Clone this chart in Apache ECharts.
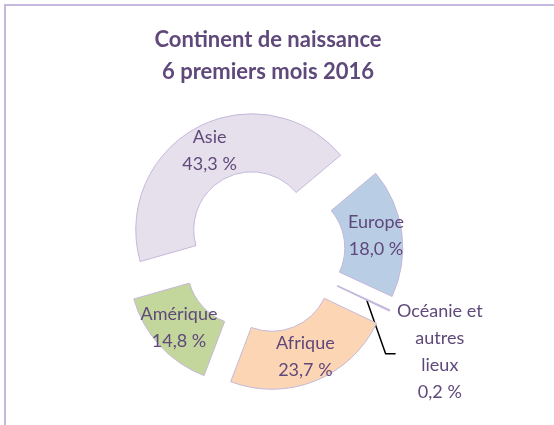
<!DOCTYPE html>
<html>
<head>
<meta charset="utf-8">
<script src="https://cdn.jsdelivr.net/npm/echarts@6/dist/echarts.min.js"></script>
<style>
  html, body { margin: 0; padding: 0; background: #fff; }
  #chart { width: 554px; height: 425px; }
</style>
</head>
<body>
<div id="chart"></div>
<script>
const continents = ['Europe', 'Océanie et\nautres\nlieux', 'Afrique', 'Amérique', 'Asie']
const shares = [18.0, 0.2, 23.7, 14.8, 43.3]
const sliceColors = ['#b9cde5', '#c9bedb', '#fcd5b5', '#c3d69b', '#e5e0ec']

const CX = 263
const CY = 251
const textColor = '#5f497a'

const chart = echarts.init(document.getElementById('chart'))

const fmt = v => v.toFixed(1).replace('.', ',') + ' %'

const pieData = continents.map((name, i) => {
  const item = {
    name,
    value: shares[i],
    selected: true,
    itemStyle: { color: sliceColors[i] },
  }
  if (i === 1) {
    // tiny slice: label outside with a black leader
    item.label = { position: 'outside' }
    item.labelLine = { show: true, length: 20, length2: 10, lineStyle: { color: '#000', width: 1.5 } }
  }
  return item
})

chart.setOption({
  animation: false,
  title: {
    text: 'Continent de naissance\n6 premiers mois 2016',
    left: 268,
    top: 24,
    padding: 0,
    textAlign: 'center',
    textStyle: {
      fontFamily: 'Lato',
      fontWeight: 'bold',
      fontSize: 22,
      lineHeight: 32,
      color: textColor,
    },
  },
  graphic: [
    {
      type: 'rect',
      shape: { x: 5, y: 5, width: 800, height: 800 },
      style: { fill: 'none', stroke: '#c5b8dc', lineWidth: 2 },
      silent: true,
    },
  ],
  series: [
    {
      type: 'pie',
      center: [CX, CY],
      radius: [58, 116],
      startAngle: 40,
      clockwise: true,
      selectedMode: 'multiple',
      selectedOffset: 24,
      avoidLabelOverlap: false,
      emphasis: { disabled: true },
      itemStyle: { borderColor: '#c4b8da', borderWidth: 1 },
      label: {
        show: true,
        position: 'inside',
        formatter: p => p.name + '\n' + fmt(p.value),
        fontFamily: 'Lato',
        fontSize: 18,
        lineHeight: 27,
        color: textColor,
      },
      labelLine: { show: false },
      labelLayout: params => {
        if (params.dataIndex !== 1 || !params.labelLinePoints) return
        const p0 = params.labelLinePoints[0]
        // leader starts mid-ring, like the original
        const k = 0.78
        const sx = CX + (p0[0] - CX) * k
        const sy = CY + (p0[1] - CY) * k
        return {
          dx: 17,
          dy: 33,
          align: 'center',
          labelLinePoints: [[sx, sy], [sx + 19, sy + 54], [sx + 29, sy + 54]],
        }
      },
      data: pieData,
    },
  ],
})
</script>
</body>
</html>
